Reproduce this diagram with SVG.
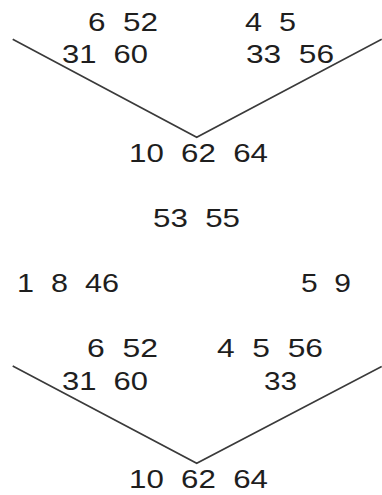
<svg xmlns="http://www.w3.org/2000/svg" width="382" height="495" viewBox="0 0 382 495">
<style>
.t{font-family:"Liberation Sans",Arial,sans-serif;font-size:25px;fill:#1e1e1e}
.c{fill:none;stroke:#3a3a3a;stroke-width:1.6;stroke-linejoin:miter}
</style>
<rect width="382" height="495" fill="#fff"/>
<g id="connectors">
<polyline class="c" points="12.7,39.3 196.7,137.3 381.7,39.3"/>
<polyline class="c" points="12.7,366 196.7,463.3 381.7,366.5"/>
</g>
<g id="n-top-a"><text class="t" x="88" y="31" textLength="70" lengthAdjust="spacingAndGlyphs">6&#160;&#160;52</text></g>
<g id="n-top-b"><text class="t" x="62" y="62.5" textLength="86" lengthAdjust="spacingAndGlyphs">31&#160;&#160;60</text></g>
<g id="n-top-c"><text class="t" x="245" y="31" textLength="51" lengthAdjust="spacingAndGlyphs">4&#160;&#160;5</text></g>
<g id="n-top-d"><text class="t" x="246" y="62.5" textLength="88" lengthAdjust="spacingAndGlyphs">33&#160;&#160;56</text></g>
<g id="n-top-root"><text class="t" x="129" y="162" textLength="139" lengthAdjust="spacingAndGlyphs">10&#160;&#160;62&#160;&#160;64</text></g>
<g id="n-mid"><text class="t" x="153" y="226.5" textLength="87" lengthAdjust="spacingAndGlyphs">53&#160;&#160;55</text></g>
<g id="n-left"><text class="t" x="17" y="291.5" textLength="102" lengthAdjust="spacingAndGlyphs">1&#160;&#160;8&#160;&#160;46</text></g>
<g id="n-right"><text class="t" x="301" y="291.5" textLength="50" lengthAdjust="spacingAndGlyphs">5&#160;&#160;9</text></g>
<g id="n-bot-a"><text class="t" x="87" y="357" textLength="71" lengthAdjust="spacingAndGlyphs">6&#160;&#160;52</text></g>
<g id="n-bot-c"><text class="t" x="217" y="357" textLength="106" lengthAdjust="spacingAndGlyphs">4&#160;&#160;5&#160;&#160;56</text></g>
<g id="n-bot-b"><text class="t" x="62" y="390" textLength="86" lengthAdjust="spacingAndGlyphs">31&#160;&#160;60</text></g>
<g id="n-bot-d"><text class="t" x="264" y="390" textLength="33" lengthAdjust="spacingAndGlyphs">33</text></g>
<g id="n-bot-root"><text class="t" x="129" y="488" textLength="139" lengthAdjust="spacingAndGlyphs">10&#160;&#160;62&#160;&#160;64</text></g>
</svg>
